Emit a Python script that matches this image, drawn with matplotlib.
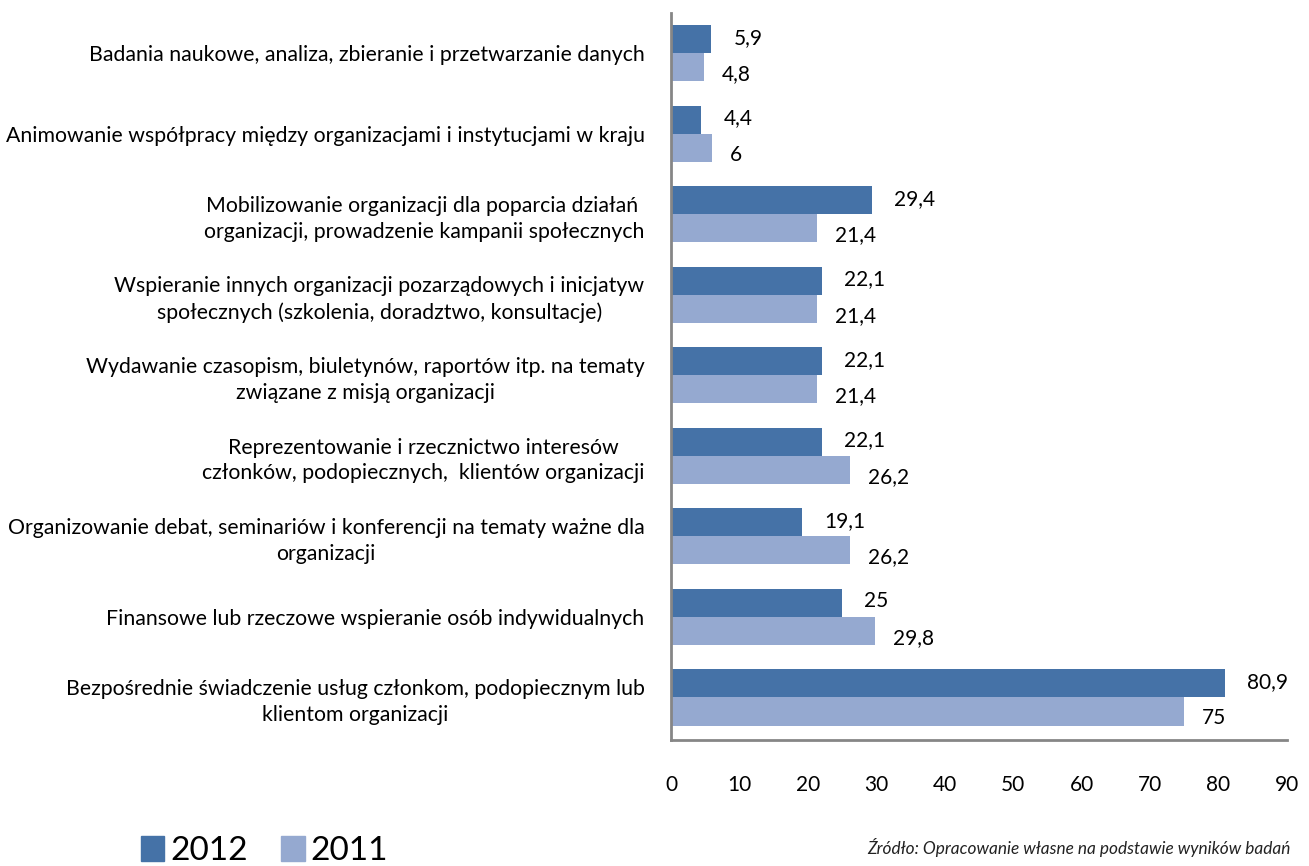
import matplotlib.pyplot as plt
from matplotlib.patches import Patch

categories = [
    'Badania naukowe, analiza, zbieranie i przetwarzanie danych',
    'Animowanie współpracy między organizacjami i instytucjami w kraju',
    'Mobilizowanie organizacji dla poparcia działań \norganizacji, prowadzenie kampanii społecznych',
    'Wspieranie innych organizacji pozarządowych i inicjatyw\nspołecznych (szkolenia, doradztwo, konsultacje)',
    'Wydawanie czasopism, biuletynów, raportów itp. na tematy\nzwiązane z misją organizacji',
    'Reprezentowanie i rzecznictwo interesów\nczłonków, podopiecznych,  klientów organizacji',
    'Organizowanie debat, seminariów i konferencji na tematy ważne dla\norganizacji',
    'Finansowe lub rzeczowe wspieranie osób indywidualnych',
    'Bezpośrednie świadczenie usług członkom, podopiecznym lub\nklientom organizacji',
]
vals_2012 = [5.9, 4.4, 29.4, 22.1, 22.1, 22.1, 19.1, 25, 80.9]
vals_2011 = [4.8, 6, 21.4, 21.4, 21.4, 26.2, 26.2, 29.8, 75]
x_ticks = [0, 10, 20, 30, 40, 50, 60, 70, 80, 90]

c2012 = '#4572A7'
c2011 = '#95A9D0'
font = 'Lato'
fs = 15

def fmt(v):
    return f'{v:g}'.replace('.', ',')

dpi = 100
fig = plt.figure(dpi=dpi, figsize=(1309 / dpi, 866 / dpi))
plt.rcParams['font.family'] = [font, 'DejaVu Sans']
ax = fig.add_axes([0.5126, 0.1455, 0.4705, 0.8395])

h = 0.35
ys = list(range(len(categories)))
ax.barh([y - h / 2 for y in ys], vals_2012, height=h, color=c2012)
ax.barh([y + h / 2 for y in ys], vals_2011, height=h, color=c2011)

for y, v in zip(ys, vals_2012):
    ax.annotate(fmt(v), (v, y - h / 2), xytext=(16, 1), textcoords='offset points',
                va='center', ha='left', fontsize=fs, color='black')
for y, v in zip(ys, vals_2011):
    ax.annotate(fmt(v), (v, y + h / 2), xytext=(13, -5), textcoords='offset points',
                va='center', ha='left', fontsize=fs, color='black')

ax.set_xlim(0, 90)
ax.set_ylim(8.53, -0.5)
ax.set_xticks(x_ticks)
ax.set_xticklabels([str(t) for t in x_ticks], fontsize=fs)
ax.set_yticks(ys)
ax.set_yticklabels(categories, fontsize=15.3)
for lab in ax.get_yticklabels():
    lab.set_multialignment('center')
    lab.set_linespacing(1.35)
ax.tick_params(axis='y', length=0, pad=19)
ax.tick_params(axis='x', length=0, pad=25)

for s in ['top', 'right']:
    ax.spines[s].set_visible(False)
for s in ['left', 'bottom']:
    ax.spines[s].set_color('#868686')
    ax.spines[s].set_linewidth(2)

handles = [Patch(color=c2012, label='2012'), Patch(color=c2011, label='2011')]
fig.legend(handles=handles, loc='center left', bbox_to_anchor=(0.1077, 0.017), ncol=2,
           frameon=False, fontsize=24, handlelength=0.7, handleheight=0.76,
           handletextpad=0.18, columnspacing=1.0, borderpad=0, borderaxespad=0)

fig.text(0.986, 0.021, 'Źródło: Opracowanie własne na podstawie wyników badań',
         ha='right', va='center', fontsize=12.4, style='italic', color='#222222')

fig.savefig('out.png')
